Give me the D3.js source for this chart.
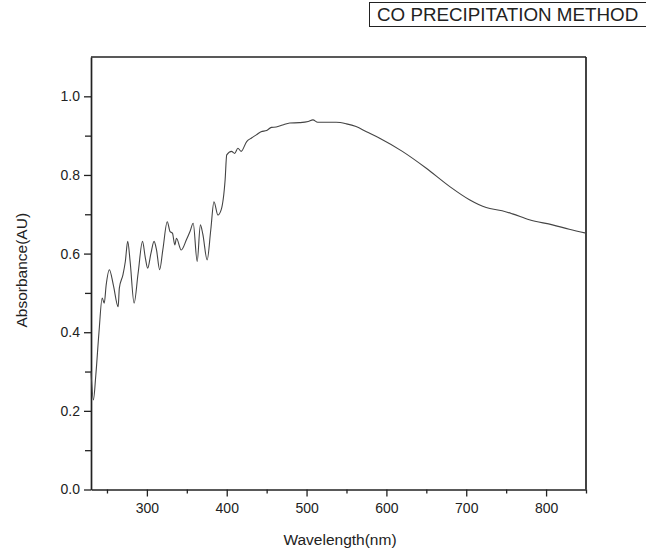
<!DOCTYPE html>
<html lang="en">
<head>
  <meta charset="UTF-8">
  <title>Absorbance spectrum – Co precipitation method</title>
  <script src="https://d3js.org/d3.v7.min.js"></script>
  <style>
    html, body {
      margin: 0;
      padding: 0;
      background: white;
    }
    svg {
      display: block;
      font-family: "Liberation Sans", Arial, sans-serif;
    }
  </style>
</head>
<body>
  <svg width="646" height="556"></svg>

<script>
  // spectrum
  const wavelength = [230, 233, 236, 240, 244, 246.6, 249, 253, 258, 264, 265.5, 270, 273, 276, 279, 284,
    289, 294.5, 298, 301, 305, 309, 312, 316, 320, 325.5, 329, 332, 335, 337, 343, 349.5, 354, 358,
    363, 367, 370, 375.5, 380, 384, 389, 393, 398, 400, 406, 410, 414, 418, 425, 431, 437, 443, 450,
    456, 462, 470, 479, 491, 502, 508, 514, 537, 550, 562, 575, 591, 620, 650, 679, 704, 725, 745,
    758, 779, 808, 829, 850];
  const absorbance = [0.300, 0.228, 0.290, 0.400, 0.487, 0.474, 0.520, 0.559, 0.520, 0.465, 0.512, 0.546,
    0.580, 0.631, 0.580, 0.474, 0.550, 0.631, 0.590, 0.563, 0.600, 0.631, 0.610, 0.559, 0.610, 0.681,
    0.656, 0.652, 0.622, 0.639, 0.609, 0.635, 0.656, 0.677, 0.580, 0.673, 0.650, 0.584, 0.660, 0.732,
    0.698, 0.711, 0.788, 0.851, 0.860, 0.855, 0.868, 0.860, 0.885, 0.894, 0.902, 0.910, 0.913, 0.921,
    0.922, 0.927, 0.932, 0.933, 0.936, 0.940, 0.934, 0.934, 0.930, 0.923, 0.910, 0.894, 0.860, 0.817,
    0.771, 0.737, 0.717, 0.709, 0.701, 0.686, 0.673, 0.662, 0.652];

  const xTicks = [300, 400, 500, 600, 700, 800];
  const xMinor = [250, 350, 450, 550, 650, 750, 850];
  const yTicks = [0.0, 0.2, 0.4, 0.6, 0.8, 1.0];
  const yMinor = [0.1, 0.3, 0.5, 0.7, 0.9];

  const titleText = "CO PRECIPITATION METHOD";

  const svg = d3.select("svg"),
        margin = { top: 57, right: 60, bottom: 66.5, left: 91 },
        width = +svg.attr("width") - margin.left - margin.right,
        height = +svg.attr("height") - margin.top - margin.bottom,
        chart = svg.append("g").attr("transform", `translate(${margin.left},${margin.top})`);

  const x = d3.scaleLinear().domain([230, 850]).range([0, width]);
  const y = d3.scaleLinear().domain([0, 1.1]).range([height, 0]);

  const axisColor = "#222";

  // minor ticks first, no labels
  chart.append("g")
    .attr("transform", `translate(0,${height})`)
    .call(d3.axisBottom(x).tickValues(xMinor).tickSize(4).tickFormat(""))
    .call(g => g.select(".domain").remove());

  chart.append("g")
    .call(d3.axisLeft(y).tickValues(yMinor).tickSize(6).tickFormat(""))
    .call(g => g.select(".domain").remove());

  chart.append("g")
    .attr("transform", `translate(0,${height})`)
    .call(d3.axisBottom(x).tickValues(xTicks).tickSize(7).tickPadding(7).tickSizeOuter(0));

  chart.append("g")
    .call(d3.axisLeft(y).tickValues(yTicks).tickSize(7).tickPadding(4).tickSizeOuter(0)
      .tickFormat(d3.format(".1f")));

  chart.selectAll(".tick line").attr("stroke", axisColor).attr("stroke-width", 1.3);
  chart.selectAll(".tick text").attr("fill", "#222").style("font-size", "14px");
  chart.selectAll(".domain").attr("stroke", axisColor).attr("stroke-width", 1.7);

  // top and right frame
  chart.append("line")
    .attr("x1", 0).attr("x2", width).attr("y1", 0).attr("y2", 0)
    .attr("stroke", axisColor).attr("stroke-width", 1.7);
  chart.append("line")
    .attr("x1", width).attr("x2", width).attr("y1", 0).attr("y2", height)
    .attr("stroke", axisColor).attr("stroke-width", 1.7);

  const data = wavelength.map((w, i) => ({ w: w, a: absorbance[i] }));

  const line = d3.line()
    .x(d => x(d.w))
    .y(d => y(d.a))
    .curve(d3.curveMonotoneX);

  chart.append("path")
    .datum(data)
    .attr("fill", "none")
    .attr("stroke", "#444")
    .attr("stroke-width", 1.1)
    .attr("d", line);

  // axis titles
  svg.append("text")
    .attr("x", 340)
    .attr("y", 545)
    .attr("text-anchor", "middle")
    .style("font-size", "15.5px")
    .attr("fill", "#222")
    .text("Wavelength(nm)");

  svg.append("text")
    .attr("transform", `translate(27,${margin.top + height / 2 - 3}) rotate(-90)`)
    .attr("text-anchor", "middle")
    .style("font-size", "15.5px")
    .attr("fill", "#222")
    .text("Absorbance(AU)");

  // boxed label top right
  const label = svg.append("g").attr("transform", "translate(369,2)");
  label.append("rect")
    .attr("x", 0.5).attr("y", 0.5)
    .attr("width", 300).attr("height", 24)
    .attr("fill", "white")
    .attr("stroke", "#222")
    .attr("stroke-width", 1);
  label.append("text")
    .attr("x", 8)
    .attr("y", 19)
    .style("font-size", "18.8px")
    .attr("fill", "#222")
    .text(titleText);
</script>

</body>
</html>
